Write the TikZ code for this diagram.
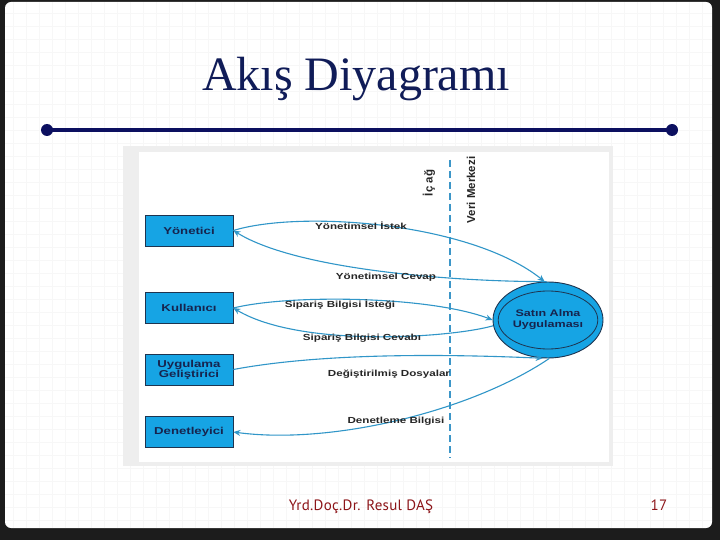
\documentclass[tikz,border=0pt]{standalone}
\usepackage{fontspec}
\setmainfont{Liberation Serif}
\newfontfamily\diagfont[FakeStretch=1.32]{Liberation Sans}
\newfontfamily\rotfont{Liberation Sans}
\newfontfamily\footfont[LetterSpace=2]{PT Sans}
\usetikzlibrary{shapes.geometric,arrows.meta}
\definecolor{frame}{RGB}{28,28,28}
\definecolor{titleblue}{RGB}{16,28,88}
\definecolor{rulecol}{RGB}{12,16,96}
\definecolor{boxfill}{RGB}{22,164,228}
\definecolor{boxdraw}{RGB}{30,52,80}
\definecolor{boxtext}{RGB}{22,36,78}
\definecolor{flowcol}{RGB}{48,150,200}
\definecolor{dashcol}{RGB}{60,150,200}
\definecolor{footred}{RGB}{140,20,24}
\definecolor{imggray}{RGB}{238,238,238}
\tikzset{
  actor/.style={draw=boxdraw, line width=0.8pt, fill=boxfill, minimum width=88pt, minimum height=31pt, inner sep=0pt, align=center, font=\diagfont\bfseries\fontsize{10}{11}\selectfont, text=boxtext},
  proc/.style={ellipse, draw=boxdraw, line width=0.9pt, fill=boxfill, minimum width=110pt, minimum height=76pt, inner sep=0pt},
  flow/.style={draw=flowcol, line width=1.1pt, -{Stealth[length=7pt,width=6pt]}},
  lbl/.style={font=\diagfont\bfseries\fontsize{8.8}{9}\selectfont, text=black!85, inner sep=0pt},
  rlbl/.style={font=\rotfont\bfseries\fontsize{11.5}{12}\selectfont, text=black!85, rotate=90, inner sep=0pt},
}
\begin{document}
\begin{tikzpicture}[x=1pt,y=-1pt]
\useasboundingbox (0,0) rectangle (720,540);
% frame and slide
\fill[frame] (0,0) rectangle (720,540);
\fill[white, rounded corners=6pt] (5,2) rectangle (712,528);
\begin{scope}
\clip (5,2) rectangle (712,528);
\draw[black!3, line width=0.3pt, step=13pt] (5,2) grid (712,528);
\end{scope}
% title
\node[font=\fontsize{48}{52}\selectfont, text=titleblue, anchor=base] (title) at (356,91) {Akış Diyagramı};
\coordinate (rl) at (47,130);
\coordinate (rr) at (672,130);
\draw[rulecol, line width=4.5pt] (rl) -- (rr);
\fill[rulecol] (rl) circle (6pt) (rr) circle (6pt);
% picture area
\fill[imggray] (123,146) rectangle (613,466);
\fill[white] (139,152) rectangle (609,462);
% dashed boundary
\coordinate (dtop) at (450,160);
\coordinate (dbot) at (450,458);
\draw[dashcol, line width=1.6pt, dash pattern=on 7pt off 4pt] (dtop) -- (dbot);
\node[rlbl] (icag) at (429,183) {İç ağ};
\node[rlbl] (veri) at (471,190) {Veri Merkezi};
% actors
\node[actor] (yon) at (189,230.5) {Yönetici};
\node[actor] (kul) at (189,308) {Kullanıcı};
\node[actor] (gel) at (189,369.5) {Uygulama\\[-1pt]Geliştirici};
\node[actor] (den) at (189,432) {Denetleyici};
% process
\node[proc] (sat) at (548,320) {};
\node[ellipse, draw=boxdraw, line width=0.8pt, minimum width=88pt, minimum height=58pt, inner sep=0pt, align=center, font=\diagfont\bfseries\fontsize{9.5}{11}\selectfont, text=boxtext] (satin) at (548,320) {Satın Alma\\Uygulaması};
% flows
\draw[flow] (yon.east) .. controls (300,210) and (470,222) .. (sat.95);
\draw[flow] (sat.92) .. controls (470,282) and (300,272) .. (yon.east);
\draw[flow] (kul.east) .. controls (290,294) and (430,296) .. (sat.west);
\draw[flow] (sat.186) .. controls (450,338) and (300,348) .. (kul.east);
\draw[flow] (gel.east) .. controls (300,357) and (400,352) .. (sat.262);
\draw[flow] (sat.272) .. controls (470,412) and (330,445) .. (den.east);
% flow labels
\node[lbl] (l1) at (361,226) {Yönetimsel İstek};
\node[lbl] (l2) at (386,277) {Yönetimsel Cevap};
\node[lbl] (l3) at (340,305) {Sipariş Bilgisi İsteği};
\node[lbl] (l4) at (362,338) {Sipariş Bilgisi Cevabı};
\node[lbl] (l5) at (389,374) {Değiştirilmiş Dosyalar};
\node[lbl] (l6) at (396,421) {Denetleme Bilgisi};
% footer
\node[font=\footfont\fontsize{15}{17}\selectfont, text=footred, anchor=base] (foot) at (361,510) {Yrd.Doç.Dr. Resul DAŞ};
\node[font=\footfont\fontsize{15}{17}\selectfont, text=footred, anchor=base] (page) at (659,510) {17};
\end{tikzpicture}
\end{document}
